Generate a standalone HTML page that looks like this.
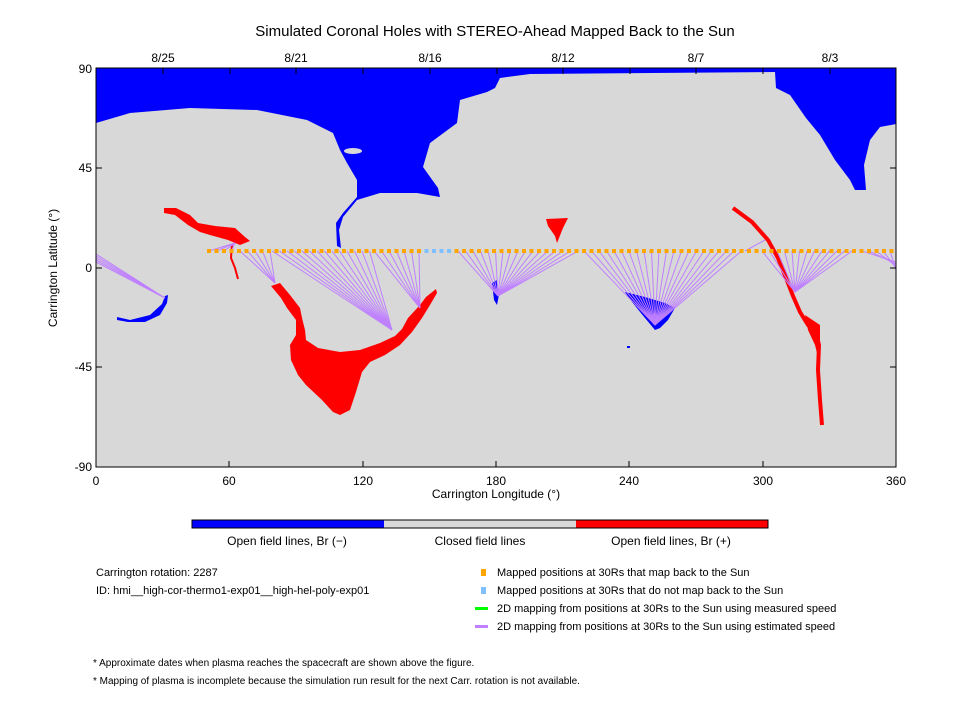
<!DOCTYPE html>
<html><head><meta charset="utf-8"><style>
body{margin:0;background:#fff;width:960px;height:720px;overflow:hidden}
svg{display:block}
text{font-family:"Liberation Sans",sans-serif;fill:#000}
</style></head><body>
<svg id="s" width="960" height="720" viewBox="0 0 960 720" xmlns="http://www.w3.org/2000/svg">
<rect x="96" y="68" width="800" height="399" fill="#d8d8d8"/>
<polygon fill="#0000ff" points="96,68 896,68 896,124 880,127 870,140 864,165 866,190 855,190 850,180 835,160 820,135 806,118 790,95 776,88 775,72 530,74 500,78 495,88 487,92 460,100 457,123 430,143 423,167 438,188 440,197 417,193 380,193 357,200 343,217 339,230 341,248 337,246 336,223 343,213 357,197 357,180 347,163 340,150 333,133 307,120 257,110 190,108 130,113 96,123"/>
<ellipse cx="353" cy="151" rx="9" ry="3" fill="#d8d8d8"/>
<polygon fill="#0000ff" points="117,317 130,320 150,315 162,304 165,296 168,295 167,303 160,315 145,322 128,322 117,320"/>
<polygon fill="#0000ff" points="492,283 497,280 499,295 497,305 494,300"/>
<polygon fill="#0000ff" points="625,292 645,297 665,303 675,308 668,320 660,328 655,330 645,318 632,302"/>
<rect x="627" y="346" width="3" height="2" fill="#0000ff"/>
<polygon fill="#ff0000" points="164,208 176,208 190,215 198,223 215,226 235,228 245,237 250,241 240,245 228,240 210,235 200,232 188,225 175,215 164,213"/>
<path d="M232,244 L231,258 L235,268 L238,279" stroke="#ff0000" stroke-width="2" fill="none"/>
<polygon fill="#ff0000" points="271,286 280,283 290,295 300,308 302,318 305,330 306,340 318,348 340,352 360,350 380,343 395,336 402,329 408,318 420,305 426,297 436,289 437,293 430,305 422,318 412,332 400,345 385,355 370,362 362,372 356,392 350,410 340,415 333,412 322,400 306,385 298,375 291,360 290,345 296,335 296,320 287,308 281,298"/>
<polygon fill="#ff0000" points="546,219 568,218 563,228 557,243 555,236 548,226"/>
<path d="M733,208 L752,222 L768,240 L778,258 L786,278 L793,296 L800,312 L808,325 L816,333 L819,345 L818,370 L820,400 L822,425" stroke="#ff0000" stroke-width="4" fill="none"/>
<polygon fill="#ff0000" points="805,315 820,325 820,365 815,345 808,330"/>
<g id="lines" stroke="#bf80ff" stroke-width="1"></g>
<g id="dots"></g>
<rect x="96" y="68" width="800" height="399" fill="none" stroke="#000" stroke-width="1"/>
<g id="ticks" stroke="#000" stroke-width="1"></g>
<text x="495" y="36" font-size="15" text-anchor="middle">Simulated Coronal Holes with STEREO-Ahead Mapped Back to the Sun</text>
<g font-size="12" text-anchor="middle">
<text x="163" y="62">8/25</text><text x="296" y="62">8/21</text><text x="430" y="62">8/16</text><text x="563" y="62">8/12</text><text x="696" y="62">8/7</text><text x="830" y="62">8/3</text>
<text x="96" y="485">0</text><text x="229" y="485">60</text><text x="363" y="485">120</text><text x="496" y="485">180</text><text x="629" y="485">240</text><text x="763" y="485">300</text><text x="896" y="485">360</text>
<text x="496" y="498">Carrington Longitude (°)</text>
</g>
<g font-size="12" text-anchor="end">
<text x="92" y="73">90</text><text x="92" y="172">45</text><text x="92" y="272">0</text><text x="92" y="371">-45</text><text x="92" y="471">-90</text>
</g>
<text transform="translate(57,268) rotate(-90)" font-size="12" text-anchor="middle">Carrington Latitude (°)</text>
<rect x="192" y="520" width="192" height="8" fill="#0000ff"/>
<rect x="384" y="520" width="192" height="8" fill="#d8d8d8"/>
<rect x="576" y="520" width="192" height="8" fill="#ff0000"/>
<rect x="192" y="520" width="576" height="8" fill="none" stroke="#000"/>
<g font-size="12" text-anchor="middle">
<text x="287" y="545">Open field lines, Br (−)</text><text x="480" y="545">Closed field lines</text><text x="671" y="545">Open field lines, Br (+)</text>
</g>
<g font-size="11">
<text x="96" y="576">Carrington rotation: 2287</text>
<text x="96" y="594">ID: hmi__high-cor-thermo1-exp01__high-hel-poly-exp01</text>
<text x="497" y="576">Mapped positions at 30Rs that map back to the Sun</text>
<text x="497" y="594">Mapped positions at 30Rs that do not map back to the Sun</text>
<text x="497" y="612">2D mapping from positions at 30Rs to the Sun using measured speed</text>
<text x="497" y="630">2D mapping from positions at 30Rs to the Sun using estimated speed</text>
<text x="93" y="666" font-size="10">* Approximate dates when plasma reaches the spacecraft are shown above the figure.</text>
<text x="93" y="684" font-size="10">* Mapping of plasma is incomplete because the simulation run result for the next Carr. rotation is not available.</text>
</g>
<rect x="481" y="569" width="5" height="7" fill="#ffa500"/>
<rect x="481" y="587" width="5" height="7" fill="#80c0ff"/>
<rect x="475" y="607" width="13" height="3" fill="#00ff00"/>
<rect x="475" y="625" width="13" height="3" fill="#bf80ff"/>
</svg>
<script>
var NS="http://www.w3.org/2000/svg";
function el(p,t,a){var e=document.createElementNS(NS,t);for(var k in a)e.setAttribute(k,a[k]);p.appendChild(e);return e;}
var L=document.getElementById("lines"),D=document.getElementById("dots"),T=document.getElementById("ticks");
var groups=[[209,236,235,243],[240,270,275,283],[272,372,392,330],[374,426,420,308],[458,578,498,296],[584,742,655,325],[762,858,795,292]];
groups.forEach(function(g){for(var x=g[0];x<=g[1];x+=7.5)el(L,"line",{x1:x,y1:251,x2:g[2],y2:g[3]});});
for(var i=0;i<5;i++){el(L,"line",{x1:96,y1:254+i*2,x2:165,y2:298});}
for(var i=0;i<5;i++){el(L,"line",{x1:862+i*7,y1:251,x2:896,y2:262+i*2});}
el(L,"line",{x1:745,y1:251,x2:765,y2:240});
for(var x=209;x<=894;x+=7.5){var c=(x>=423&&x<=455)?"#80c0ff":"#ffa500";el(D,"rect",{x:x-2,y:249,width:4,height:4,fill:c});}
[163,230,296,363,430,497,563,630,696,763,830].forEach(function(x){el(T,"line",{x1:x,y1:68,x2:x,y2:74});});
[96,229,363,496,629,763,896].forEach(function(x){el(T,"line",{x1:x,y1:467,x2:x,y2:461});});
[68,168,268,367,467].forEach(function(y){el(T,"line",{x1:96,y1:y,x2:102,y2:y});el(T,"line",{x1:896,y1:y,x2:890,y2:y});});
</script>
</body></html>
